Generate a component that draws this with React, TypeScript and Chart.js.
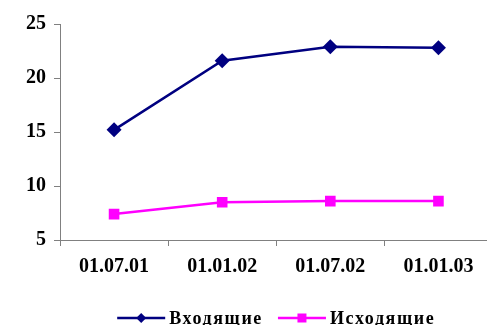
import React, { useEffect, useRef } from "react";
import { Chart, registerables } from "chart.js";

Chart.register(...registerables);

const categories = ["01.07.01", "01.01.02", "01.07.02", "01.01.03"];
const incoming = [15.2, 21.6, 22.9, 22.8];
const outgoing = [7.4, 8.5, 8.6, 8.6];
const seriesNames = ["Входящие", "Исходящие"];
const yTicks = [5, 10, 15, 20, 25];

const NAVY = "#000080";
const PINK = "#FF00FF";
const FONT = '"Liberation Serif", "Times New Roman", serif';

Chart.defaults.font.family = FONT;
Chart.defaults.font.weight = "bold" as any;
Chart.defaults.font.size = 20;
Chart.defaults.color = "#000";

const legendPlugin = {
  id: "customLegend",
  afterDraw(chart: any) {
    const ctx = chart.ctx as CanvasRenderingContext2D;
    ctx.save();
    (ctx as any).letterSpacing = "1.6px";
    ctx.font = `bold 18px ${FONT}`;
    ctx.textBaseline = "middle";
    ctx.textAlign = "left";
    const lineLen = 48;
    const gap = 4;
    const itemGap = 15;
    const widths = seriesNames.map((n) => ctx.measureText(n).width);
    const total = widths.reduce((a, b) => a + b, 0) + 2 * (lineLen + gap) + itemGap;
    const cx = (chart.chartArea.left + chart.chartArea.right) / 2;
    let x = cx - total / 2;
    const y = 318;
    chart.data.datasets.forEach((ds: any, i: number) => {
      ctx.strokeStyle = ds.borderColor;
      ctx.lineWidth = 2.5;
      ctx.beginPath();
      ctx.moveTo(x, y);
      ctx.lineTo(x + lineLen, y);
      ctx.stroke();
      const mx = x + lineLen / 2;
      ctx.fillStyle = ds.backgroundColor;
      ctx.beginPath();
      if (ds.pointStyle === "rectRot") {
        const r = 5;
        ctx.moveTo(mx, y - r);
        ctx.lineTo(mx + r, y);
        ctx.lineTo(mx, y + r);
        ctx.lineTo(mx - r, y);
        ctx.closePath();
      } else {
        const s = 4.5;
        ctx.rect(mx - s, y - s, 2 * s, 2 * s);
      }
      ctx.fill();
      x += lineLen + gap;
      ctx.fillStyle = "#000";
      ctx.fillText(seriesNames[i], x, y + 1);
      x += widths[i] + itemGap;
    });
    ctx.restore();
  },
};

export default function App() {
  const ref = useRef<HTMLCanvasElement>(null);
  useEffect(() => {
    if (!ref.current) return;
    const chart = new Chart(ref.current, {
      type: "line",
      data: {
        labels: categories,
        datasets: [
          {
            label: seriesNames[0],
            data: incoming,
            borderColor: NAVY,
            backgroundColor: NAVY,
            borderWidth: 2.5,
            pointStyle: "rectRot",
            pointRadius: 7.5,
            pointBorderWidth: 0,
            tension: 0,
          },
          {
            label: seriesNames[1],
            data: outgoing,
            borderColor: PINK,
            backgroundColor: PINK,
            borderWidth: 2.5,
            pointStyle: "rect",
            pointRadius: 7.5,
            pointBorderWidth: 0,
            tension: 0,
          },
        ],
      },
      options: {
        responsive: false,
        animation: false,
        layout: { padding: { left: 0, top: 24, right: 4, bottom: 0 } },
        plugins: { legend: { display: false }, tooltip: { enabled: false } },
        scales: {
          x: {
            type: "category",
            offset: true,
            grid: {
              display: true,
              drawOnChartArea: false,
              drawTicks: true,
              tickLength: 6,
              offset: true,
              color: "#808080",
            },
            border: { display: true, color: "#808080", width: 1 },
            ticks: {
              color: "#000",
              padding: 9,
              maxRotation: 0,
              font: { family: FONT, size: 20, weight: "bold" },
            },
            afterFit(axis: any) {
              axis.height = 85;
            },
          },
          y: {
            min: 5,
            max: 25,
            afterBuildTicks(axis: any) {
              axis.ticks = yTicks.map((v) => ({ value: v }));
            },
            grid: {
              display: true,
              drawOnChartArea: false,
              drawTicks: true,
              tickLength: 6,
              color: "#808080",
            },
            border: { display: true, color: "#808080", width: 1 },
            ticks: {
              color: "#000",
              padding: 8,
              font: { family: FONT, size: 20, weight: "bold" },
            },
            afterFit(axis: any) {
              axis.width = 60;
            },
          },
        },
      },
      plugins: [legendPlugin],
    } as any);
    return () => chart.destroy();
  }, []);
  return (
    <div
      style={{
        position: "fixed",
        left: 0,
        top: 0,
        width: 487,
        height: 325,
        overflow: "hidden",
        background: "#fff",
      }}
    >
      <canvas ref={ref} width={500} height={325} />
    </div>
  );
}
